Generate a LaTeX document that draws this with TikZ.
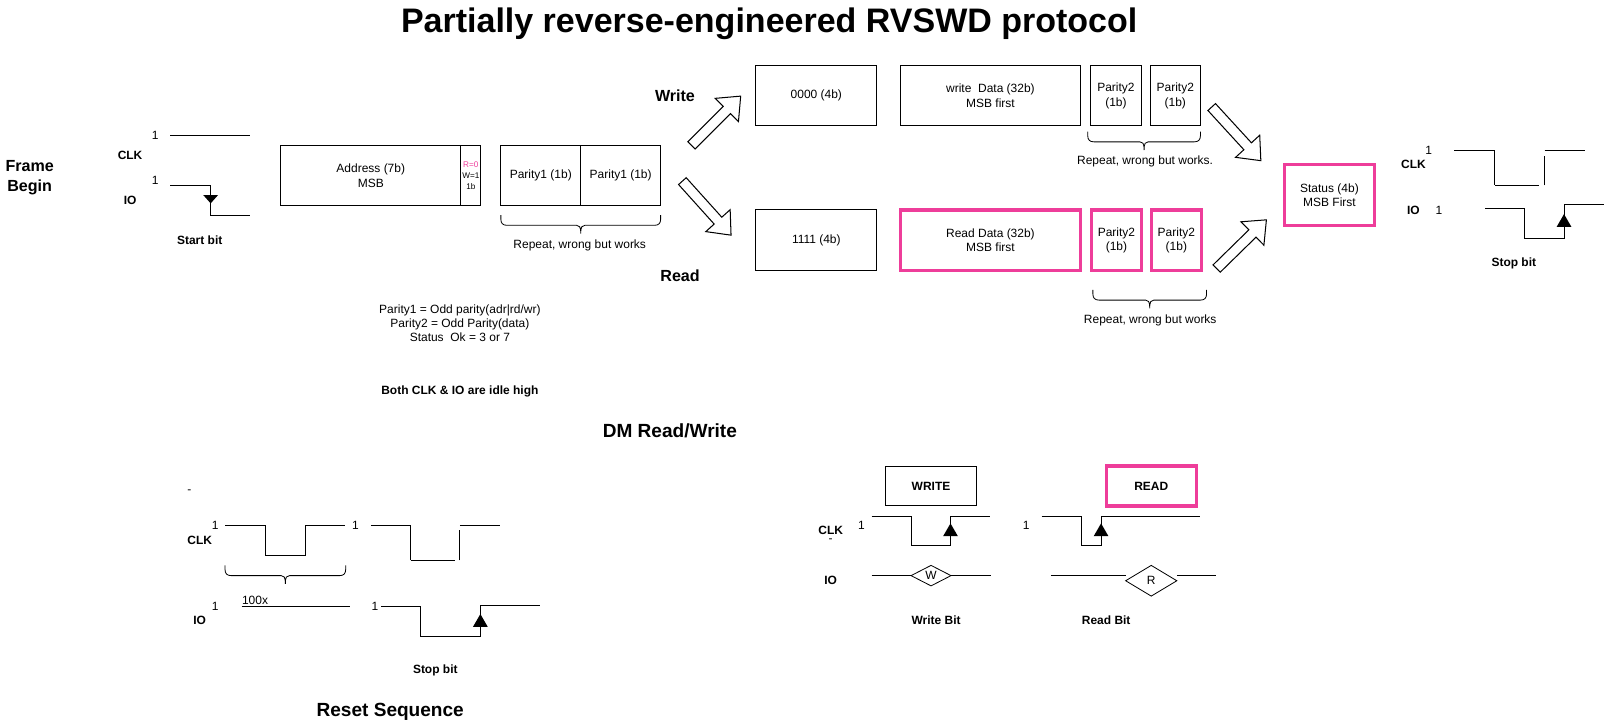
\documentclass[tikz,border=0pt]{standalone}
\usepackage{fontspec}
\setmainfont{Liberation Sans}
\usetikzlibrary{shapes.arrows,shapes.geometric}
\definecolor{rvpink}{HTML}{EE3D9A}
\tikzset{
    txt/.style={inner sep=0pt, align=center, yshift=-0.7pt, font=\fontsize{11.7}{14}\selectfont},
    txtb/.style={txt, font=\fontsize{11.7}{14}\selectfont\bfseries},
    head/.style={txt, font=\fontsize{15.7}{20}\selectfont\bfseries},
    sect/.style={txt, font=\fontsize{18.6}{22}\selectfont\bfseries},
    rvbox/.style={draw, line width=1pt, inner sep=0pt, outer sep=0pt, align=center, font=\fontsize{11.7}{14}\selectfont},
    pinkbox/.style={rvbox, draw=rvpink, line width=3pt},
    wire/.style={line width=1pt},
    blockarrow/.style={draw, line width=1pt, single arrow, inner xsep=0pt, inner ysep=4.5pt, outer sep=0pt,
        single arrow head extend=11pt, single arrow tip angle=80},
    bitdiamond/.style={draw, line width=0.8pt, diamond, inner sep=0pt, outer sep=0pt, font=\fontsize{11.7}{14}\selectfont}
}
% left end, right end, top of a curly bracket
\newcommand{\rvbrace}[3]{
    \pgfmathsetmacro{\mid}{(#1+#2)/2}
    \draw[line width=0.8pt] (#1,#3) -- (#1,#3+4) .. controls (#1,#3+8) and (#1+2,#3+10) .. (#1+6,#3+10) -- (\mid-4,#3+10)
        .. controls (\mid-1.5,#3+10) and (\mid,#3+11) .. (\mid,#3+18)
        .. controls (\mid,#3+11) and (\mid+1.5,#3+10) .. (\mid+4,#3+10) -- (#2-6,#3+10)
        .. controls (#2-2,#3+10) and (#2,#3+8) .. (#2,#3+4) -- (#2,#3);
}
\begin{document}
\begin{tikzpicture}[x=1pt, y=-1pt]
    \useasboundingbox (0,0) rectangle (1568,708.8);
    \node[txt, font=\fontsize{33.2}{40}\selectfont\bfseries] (title) at (751,22.8) {Partially reverse-engineered RVSWD protocol};
    % Frame begin
    \node[head] (framebegin) at (29,172.8) {Frame\\Begin};
    \node[txtb] (clka) at (127,151) {CLK};
    \node[txtb] (ioa) at (127,195) {IO};
    \foreach \n/\x/\y in {onea/151.5/131.5, oneb/151.5/175.5, onec/1395/146, oned/1405/205, onee/210/512.5, onef/347/512.5, oneg/210/591, oneh/366/591, onei/841/512, onej/1002/512} {
        \node[txt] (\n) at (\x,\y) {1};
    }
    \draw[wire] (166,132) -- (244,132);
    \draw[wire] (166,181) -- (205.5,181) -- (205.5,210) -- (244,210);
    \fill (198.4,190.4) -- (212.9,190.4) -- (205.7,198.6) -- cycle;
    \node[txtb] (startbit) at (195,234) {Start bit};
    % Address and parity
    \node[rvbox, minimum width=176, minimum height=59] (addr) at (362,171.5) {Address (7b)\\MSB};
    \node[rvbox, minimum width=19.5, minimum height=59, font=\fontsize{8}{11}\selectfont] (rwbit) at (459.7,171.5) {\textcolor{rvpink}{R=0}\\W=1\\1b};
    \node[rvbox, minimum width=78, minimum height=59] (paraa) at (528,171.5) {Parity1 (1b)};
    \node[rvbox, minimum width=78, minimum height=59] (parab) at (606,171.5) {Parity1 (1b)};
    \rvbrace{489}{645}{210}
    \node[txt] (repeata) at (566,239) {Repeat, wrong but works};
    \node[txt] (notes) at (449,315) {Parity1 = Odd parity(adr|rd/wr)\\Parity2 = Odd Parity(data)\\Status~~Ok = 3 or 7};
    \node[txtb] (idle) at (449,381.5) {Both CLK \& IO are idle high};
    % Block arrows
    \foreach \n/\x/\y/\a/\l in {arrowwrite/697/120/45/68, arrowread/688/201/-48/71, arrowstatusa/1205/128.5/-47.5/71, arrowstatusb/1210/240.5/44.4/68} {
        \node[blockarrow, rotate=\a, minimum height=\l] (\n) at (\x,\y) {};
    }
    \node[head] (writelbl) at (659,93) {Write};
    \node[head] (readlbl) at (664,269) {Read};
    % Write row
    \node[rvbox, minimum width=118, minimum height=59] (nibwr) at (797,93.5) {0000 (4b)};
    \node[rvbox, minimum width=176, minimum height=59] (datawr) at (967,93.5) {write~~Data (32b)\\MSB first};
    \node[rvbox, minimum width=49, minimum height=59] (parwa) at (1089.5,93.5) {Parity2\\(1b)};
    \node[rvbox, minimum width=49, minimum height=59] (parwb) at (1147.5,93.5) {Parity2\\(1b)};
    \rvbrace{1062}{1172}{128.5}
    \node[txt] (repeatb) at (1118,157) {Repeat, wrong but works.};
    % Read row
    \node[rvbox, minimum width=118, minimum height=59] (nibrd) at (797,234.5) {1111 (4b)};
    \node[pinkbox, minimum width=176, minimum height=59] (datard) at (967,234.5) {Read Data (32b)\\MSB first};
    \node[pinkbox, minimum width=49, minimum height=59] (parra) at (1090,234.5) {Parity2\\(1b)};
    \node[pinkbox, minimum width=49, minimum height=59] (parrb) at (1148.5,234.5) {Parity2\\(1b)};
    \rvbrace{1067}{1178}{283}
    \node[txt] (repeatc) at (1123,312) {Repeat, wrong but works};
    \node[pinkbox, minimum width=88, minimum height=59] (status) at (1298,190.5) {Status (4b)\\MSB First};
    % Stop bit
    \node[txtb] (clkb) at (1380,160) {CLK};
    \node[txtb] (iob) at (1380,205) {IO};
    \draw[wire] (1420,147) -- (1459,147) -- (1459,181);
    \draw[wire] (1460,181) -- (1503,181);
    \draw[wire] (1508,181) -- (1508,152);
    \draw[wire] (1508,147) -- (1547,147);
    \draw[wire] (1450,204) -- (1488.5,204) -- (1488.5,233) -- (1527,233) -- (1527,200) -- (1566,200);
    \node[txtb] (stopa) at (1478,256) {Stop bit};
    \node[sect] (dmlbl) at (654,420) {DM Read/Write};
    % Reset sequence
    \node[txt] (dasha) at (185,479) {-};
    \node[txtb] (clkc) at (195,527) {CLK};
    \node[txtb] (ioc) at (195,605) {IO};
    \draw[wire] (220,513) -- (259,513) -- (259,542) -- (298,542) -- (298,513) -- (337,513);
    \draw[wire] (362,513) -- (401,513) -- (401,547);
    \draw[wire] (401,547) -- (444,547);
    \draw[wire] (449,547) -- (449,517.5);
    \draw[wire] (449,513) -- (488,513);
    \rvbrace{219.7}{337.5}{552}
    \node[txt] (times) at (249,585.5) {100x};
    \draw[wire] (236,592) -- (342,592);
    \draw[wire] (372,592.5) -- (411,592.5) -- (411,621) -- (469,621) -- (469,591) -- (527,591);
    \node[txtb] (stopb) at (425,654) {Stop bit};
    \node[sect] (resetlbl) at (381,693.8) {Reset Sequence};
    % Write and read bits
    \node[rvbox, minimum width=88, minimum height=39, font=\fontsize{11.7}{14}\selectfont\bfseries] (writebox) at (909,474.5) {WRITE};
    \node[pinkbox, minimum width=88, minimum height=39, font=\fontsize{11.7}{14}\selectfont\bfseries] (readbox) at (1124,474.5) {READ};
    \node[txtb] (clkd) at (811,517) {CLK};
    \node[txt] (dashb) at (811,527) {-};
    \node[txtb] (iod) at (811,566) {IO};
    \draw[wire] (851,504) -- (890,504) -- (890,533) -- (928,533) -- (928,504) -- (967,504);
    \draw[wire] (1017,504) -- (1056,504) -- (1056,533) -- (1075,533) -- (1075,504) -- (1172,504);
    \node[bitdiamond, minimum width=39, minimum height=20] (wbit) at (909,562) {W};
    \node[bitdiamond, minimum width=50, minimum height=30] (rbit) at (1124,567) {R};
    \draw[wire] (851,562) -- (wbit.west);
    \draw[wire] (wbit.east) -- (968,562);
    \draw[wire] (1026,562) -- (1099,562);
    \draw[wire] (1149,562) -- (1187,562);
    \node[txtb] (writebit) at (914,605) {Write Bit};
    \node[txtb] (readbit) at (1080,605) {Read Bit};
    % Edge markers
    \foreach \x/\y in {1527/209, 469/599.5, 928/511, 1075/511} {
        \fill (\x,\y) -- (\x+7.2,\y+12.5) -- (\x-7.2,\y+12.5) -- cycle;
    }
\end{tikzpicture}
\end{document}
